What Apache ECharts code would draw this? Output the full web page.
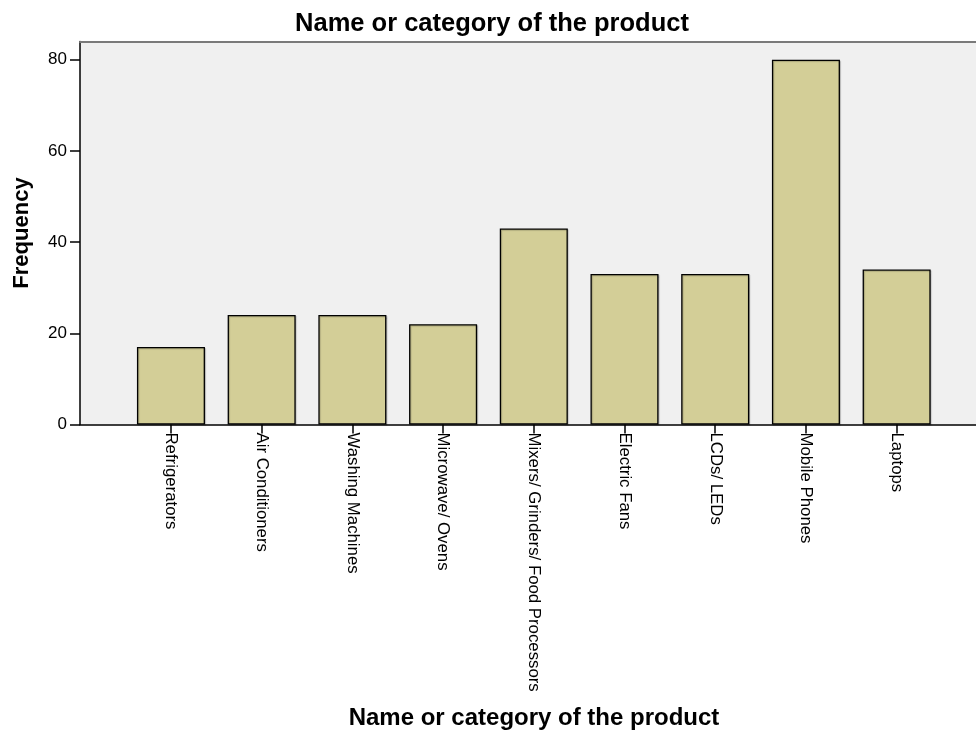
<!DOCTYPE html>
<html>
<head>
<meta charset="utf-8">
<script src="https://cdn.jsdelivr.net/npm/echarts@6/dist/echarts.min.js"></script>
<style>
  html, body { margin: 0; padding: 0; background: #fff; }
  #chart { width: 976px; height: 733px; }
</style>
</head>
<body>
<div id="chart"></div>
<script>
// Product categories and how often each was named
const categories = [
  'Refrigerators',
  'Air Conditioners',
  'Washing Machines',
  'Microwave/ Ovens',
  'Mixers/ Grinders/ Food Processors',
  'Electric Fans',
  'LCDs/ LEDs',
  'Mobile Phones',
  'Laptops'
];
const frequency = [17, 24, 24, 22, 43, 33, 33, 80, 34];
const yTicks = [0, 20, 40, 60, 80];

const FONT = 'Liberation Sans, Arial, sans-serif';
const Y_MAX = 84;

const chart = echarts.init(document.getElementById('chart'), null, { renderer: 'canvas' });

chart.setOption({
  animation: false,
  backgroundColor: '#ffffff',
  title: {
    text: 'Name or category of the product',
    left: 487,
    textAlign: 'center',
    top: 6,
    textStyle: { fontFamily: FONT, fontSize: 25.5, fontWeight: 'bold', color: '#000' }
  },
  grid: [
    // plot frame with grey background (runs past the right edge)
    { left: 80, top: 41.5, width: 908, height: 383, show: true, backgroundColor: '#f0f0f0', borderWidth: 0, outerBoundsMode: 'none', containLabel: false },
    // bar area
    { left: 125.6, top: 41.5, width: 816.4, height: 383, outerBoundsMode: 'none', containLabel: false }
  ],
  xAxis: [
    {
      gridIndex: 0, type: 'value', min: 0, max: 1, position: 'bottom',
      axisLine: { show: true, lineStyle: { color: '#000', width: 1.5 } },
      axisTick: { show: false }, axisLabel: { show: false }, splitLine: { show: false },
      name: 'Name or category of the product',
      nameLocation: 'middle', nameGap: 282,
      nameTextStyle: { fontFamily: FONT, fontSize: 24, fontWeight: 'bold', color: '#000' }
    },
    {
      gridIndex: 0, type: 'value', min: 0, max: 1, position: 'top',
      axisLine: { show: true, lineStyle: { color: '#7a7a7a', width: 2 } },
      axisTick: { show: false }, axisLabel: { show: false }, splitLine: { show: false }
    },
    {
      gridIndex: 1, type: 'category', data: categories, boundaryGap: true,
      axisLine: { show: false },
      axisTick: { show: true, alignWithLabel: true, length: 9, lineStyle: { color: '#000', width: 1.5 } },
      axisLabel: {
        rotate: -90, margin: 8, interval: 0,
        fontFamily: FONT, fontSize: 16.8, color: '#000'
      },
      splitLine: { show: false }
    }
  ],
  yAxis: [
    {
      gridIndex: 0, type: 'value', min: 0, max: Y_MAX, interval: 20,
      axisLine: { show: true, lineStyle: { color: '#000', width: 1.5 } },
      axisTick: { show: true, length: 10, customValues: yTicks, lineStyle: { color: '#000', width: 1.5 } },
      axisLabel: { customValues: yTicks, margin: 13, fontFamily: FONT, fontSize: 17, color: '#000' },
      splitLine: { show: false },
      name: 'Frequency', nameLocation: 'middle', nameGap: 47,
      nameTextStyle: { fontFamily: FONT, fontSize: 22, fontWeight: 'bold', color: '#000' }
    },
    {
      gridIndex: 1, type: 'value', min: 0, max: Y_MAX, show: false,
      splitLine: { show: false }
    }
  ],
  series: [
    {
      type: 'bar',
      xAxisIndex: 2, yAxisIndex: 1,
      data: frequency,
      barWidth: '75%',
      itemStyle: {
        color: '#d3ce97',
        borderColor: '#000',
        borderWidth: 1.3,
        shadowColor: 'rgba(0,0,0,0.2)',
        shadowOffsetX: 1,
        shadowOffsetY: 1,
        shadowBlur: 1
      }
    }
  ]
});
</script>
</body>
</html>
